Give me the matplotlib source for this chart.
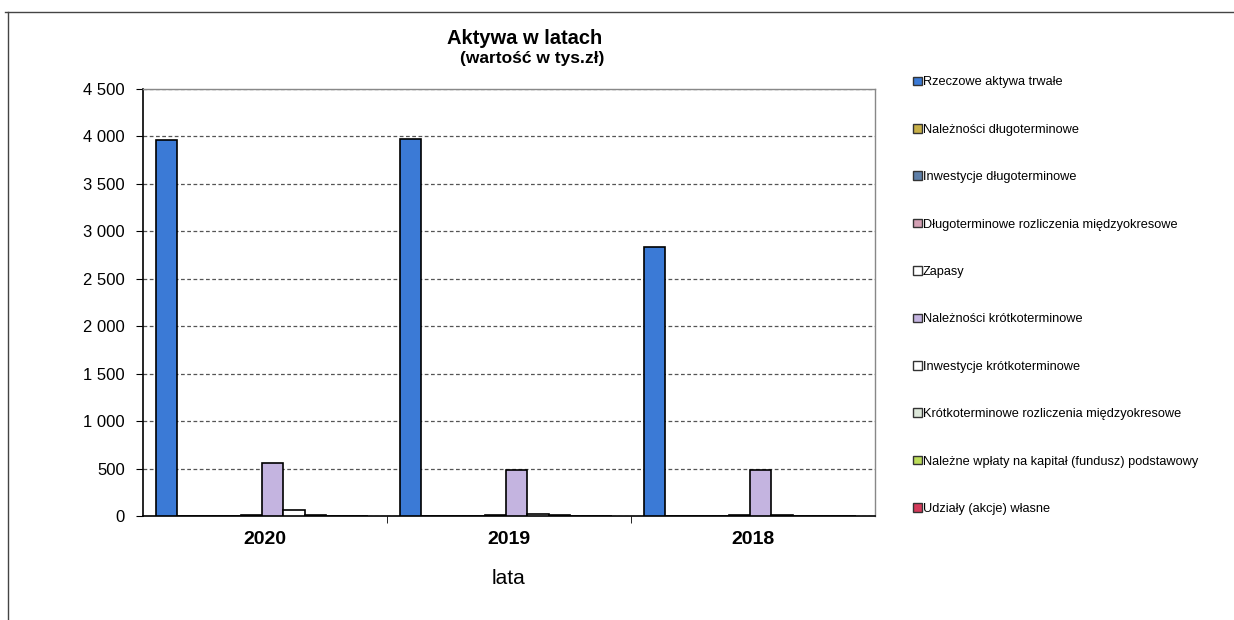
import matplotlib
matplotlib.use("Agg")
import matplotlib.pyplot as plt
import numpy as np
from matplotlib.lines import Line2D
from matplotlib.patches import Patch
from matplotlib.ticker import FuncFormatter, FixedLocator

plt.rcParams['font.family'] = ['Liberation Sans', 'DejaVu Sans']

years = ["2020", "2019", "2018"]
series_names = [
    "Rzeczowe aktywa trwałe",
    "Należności długoterminowe",
    "Inwestycje długoterminowe",
    "Długoterminowe rozliczenia międzyokresowe",
    "Zapasy",
    "Należności krótkoterminowe",
    "Inwestycje krótkoterminowe",
    "Krótkoterminowe rozliczenia międzyokresowe",
    "Należne wpłaty na kapitał (fundusz) podstawowy",
    "Udziały (akcje) własne",
]
rzeczowe = [3960, 3970, 2830]
nal_dlugo = [0, 0, 0]
inw_dlugo = [0, 0, 0]
rozl_dlugo = [0, 0, 0]
zapasy = [15, 12, 10]
nal_krotko = [560, 480, 480]
inw_krotko = [65, 18, 8]
rozl_krotko = [8, 6, 5]
nalezne_wplaty = [0, 0, 0]
udzialy = [0, 0, 0]
values = [rzeczowe, nal_dlugo, inw_dlugo, rozl_dlugo, zapasy,
          nal_krotko, inw_krotko, rozl_krotko, nalezne_wplaty, udzialy]
colors = ["#3B7AD6", "#C8B048", "#5E7FA8", "#D4A0B4", "#FFFFFF",
          "#C4B4E0", "#FFFFFF", "#DDE8DA", "#BCDD5A", "#D43A5A"]

fig = plt.figure(figsize=(12.34, 6.2), dpi=100)
ax = fig.add_axes([143/1234, 1-516/620, (875-143)/1234, (516-89)/620])

x = np.arange(len(years))
n = len(values)
w = 0.087
for i, (vals, c) in enumerate(zip(values, colors)):
    ax.bar(x - 0.012 + (i - (n-1)/2) * w, vals, width=w, color=c, edgecolor="black",
           linewidth=1.2, zorder=3)

ax.set_xlim(-0.5, 2.5)
ax.set_ylim(0, 4500)
ax.set_yticks(np.arange(0, 4501, 500))
ax.yaxis.set_major_formatter(FuncFormatter(lambda v, p: f"{int(v):,}".replace(",", " ")))
ax.set_xticks(x)
ax.set_xticklabels(years, fontsize=14, fontweight="bold")
ax.xaxis.set_minor_locator(FixedLocator([0.5, 1.5]))
ax.tick_params(axis="x", which="major", length=0, pad=11)
ax.tick_params(axis="x", which="minor", length=5, direction="out", color="black")
ax.tick_params(axis="y", length=5, direction="out", labelsize=12, pad=8, color="black")
ax.yaxis.grid(True, linestyle=(0, (3, 2)), color="#555555", linewidth=0.9, zorder=0)
ax.set_axisbelow(True)
for s in ["top", "right"]:
    ax.spines[s].set_color("#888888")
    ax.spines[s].set_linewidth(1.0)
for s in ["left", "bottom"]:
    ax.spines[s].set_color("black")
    ax.spines[s].set_linewidth(1.2)

ax.set_xlabel("lata", fontsize=15, labelpad=15)

fig.text(525/1234, 1-38/620, "Aktywa w latach", ha="center", va="center",
         fontsize=14.5, fontweight="bold")
fig.text(532/1234, 1-59/620, "(wartość w tys.zł)", ha="center", va="center",
         fontsize=12.5, fontweight="bold")

handles = [Patch(facecolor=c, edgecolor="#333333", linewidth=1.0) for c in colors]
leg = fig.legend(handles, series_names, loc="upper left",
                 bbox_to_anchor=(907/1234, 1-70/620), frameon=False,
                 fontsize=9.2, handlelength=0.65, handleheight=0.65,
                 handletextpad=0.1, labelspacing=2.77, borderpad=0)

fig.add_artist(Line2D([5/1234, 1], [1-12/620, 1-12/620], color="#444444", linewidth=1.0))
fig.add_artist(Line2D([8/1234, 8/1234], [1-12/620, 0], color="#444444", linewidth=1.0))

fig.savefig("out.png", dpi=100)
